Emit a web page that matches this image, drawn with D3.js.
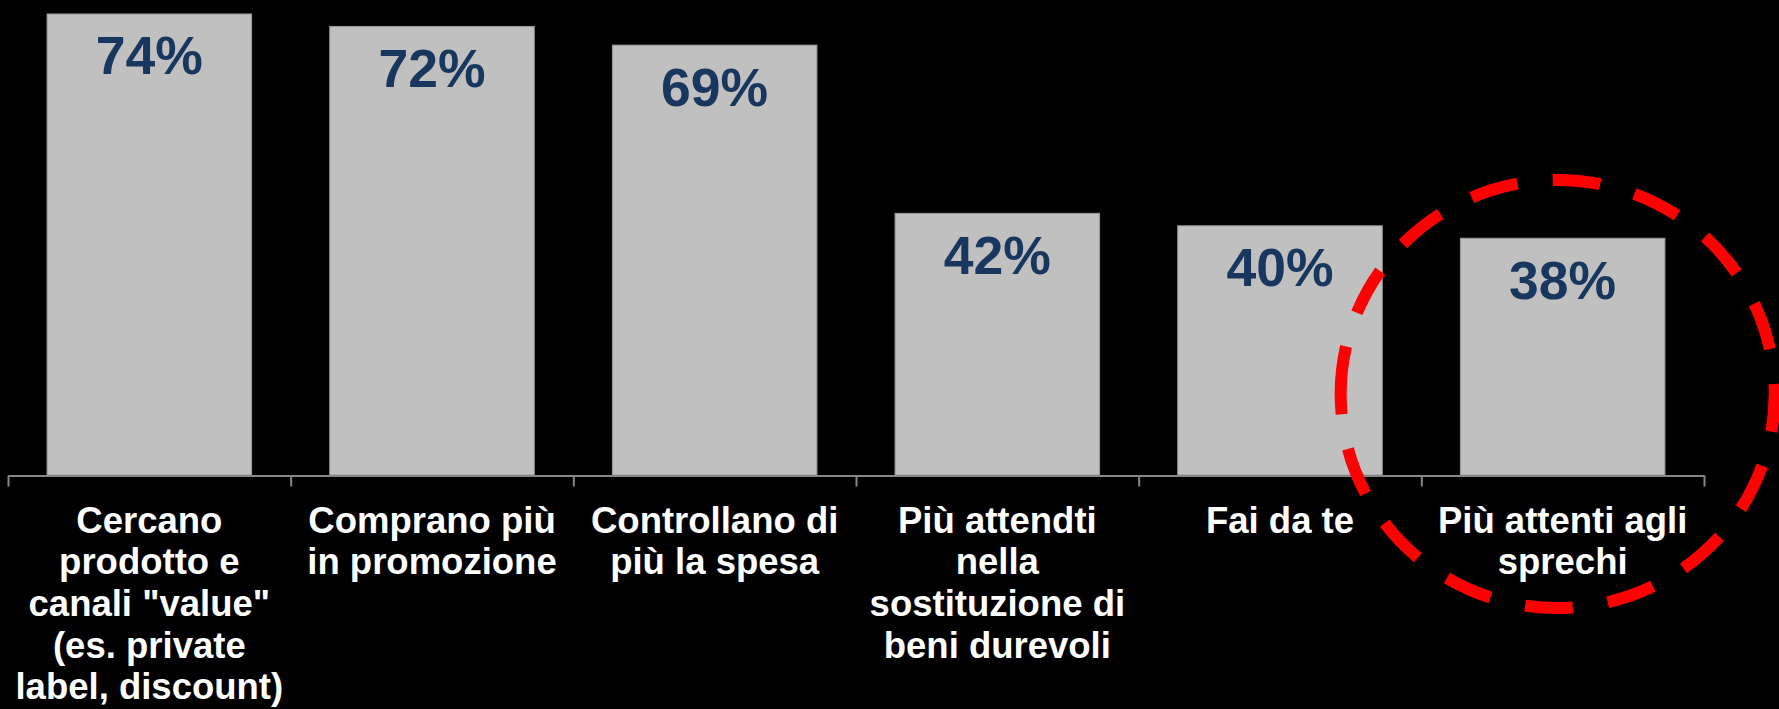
<!DOCTYPE html>
<html>
<head>
<meta charset="utf-8">
<script src="https://cdn.jsdelivr.net/npm/d3@7"></script>
<style>
  html, body { margin: 0; padding: 0; background: #000; }
  svg { display: block; }
</style>
</head>
<body>
<svg id="chart" width="1779" height="709"></svg>
<script>
// Category labels (one entry per line of text) and their percentages
const categories = [
  ["Cercano", "prodotto e", "canali \"value\"", "(es. private", "label, discount)"],
  ["Comprano più", "in promozione"],
  ["Controllano di", "più la spesa"],
  ["Più attendti", "nella", "sostituzione di", "beni durevoli"],
  ["Fai da te"],
  ["Più attenti agli", "sprechi"]
];
const values = [74, 72, 69, 42, 40, 38];
const valueLabels = ["74%", "72%", "69%", "42%", "40%", "38%"];
// the category that gets the dashed highlight
const highlighted = [5];

const svg = d3.select("#chart");
const W = 1779, H = 709;
svg.append("rect").attr("width", W).attr("height", H).attr("fill", "#000");

const left = 8, right = 1704, baseline = 475;
const idx = d3.range(categories.length);

// one band per category, bars take the middle ~72% of each band
const x = d3.scaleBand().domain(idx).range([left, right]).paddingInner(0.2765).paddingOuter(0.13825);
const edges = d3.scaleLinear().domain([0, categories.length]).range([left, right]);
const y = d3.scaleLinear().domain([0, 100]).range([baseline, baseline - 623]);

// bars
svg.append("g").selectAll("rect").data(values).join("rect")
  .attr("x", (d, i) => x(i))
  .attr("y", d => y(d))
  .attr("width", x.bandwidth())
  .attr("height", d => baseline - y(d))
  .attr("fill", "#c0c0c0")
  .attr("stroke", "#9a9a9a")
  .attr("stroke-width", 1);

// value labels inside the top of each bar
svg.append("g").selectAll("text").data(values).join("text")
  .attr("x", (d, i) => x(i) + x.bandwidth() / 2)
  .attr("y", d => y(d) + 60.5)
  .attr("text-anchor", "middle")
  .attr("font-family", "'Liberation Sans', Arial, sans-serif")
  .attr("font-weight", "bold")
  .attr("font-size", 53.5)
  .attr("fill", "#17375e")
  .text((d, i) => valueLabels[i]);

// category axis: line with ticks at the category boundaries
const axis = svg.append("g")
  .attr("transform", `translate(0,${baseline + 0.5})`)
  .call(d3.axisBottom(edges).tickValues(d3.range(categories.length + 1))
    .tickSize(11).tickSizeOuter(0).tickFormat(""));
axis.select(".domain").attr("stroke", "#878787").attr("stroke-width", 2);
axis.selectAll(".tick line").attr("stroke", "#878787").attr("stroke-width", 2);

// multi-line category labels under the axis
const labels = svg.append("g").selectAll("text").data(categories).join("text")
  .attr("text-anchor", "middle")
  .attr("font-family", "'Liberation Sans', Arial, sans-serif")
  .attr("font-weight", "bold")
  .attr("font-size", 36.5)
  .attr("fill", "#fff");
labels.each(function(lines, i) {
  const cx = (edges(i) + edges(i + 1)) / 2;
  d3.select(this).selectAll("tspan").data(lines).join("tspan")
    .attr("x", cx)
    .attr("y", (l, j) => 532.5 + j * 41.7)
    .text(l => l);
});

// dashed red ellipse around the highlighted category,
// starting at its left-most point and running clockwise over the top
highlighted.forEach(i => {
  const cx = x(i) + x.bandwidth() / 2 - 5, cy = 394, rx = 217, ry = 214;
  const path = svg.append("path")
    .attr("d", `M${cx - rx},${cy} A${rx},${ry} 0 0 1 ${cx + rx},${cy} A${rx},${ry} 0 0 1 ${cx - rx},${cy}`)
    .attr("fill", "none")
    .attr("stroke", "#ff0000")
    .attr("stroke-width", 12);
  const L = path.node().getTotalLength();
  const period = (L - 21) / 16;
  path.attr("stroke-dasharray", `48 ${period - 48}`);
});
</script>
</body>
</html>
